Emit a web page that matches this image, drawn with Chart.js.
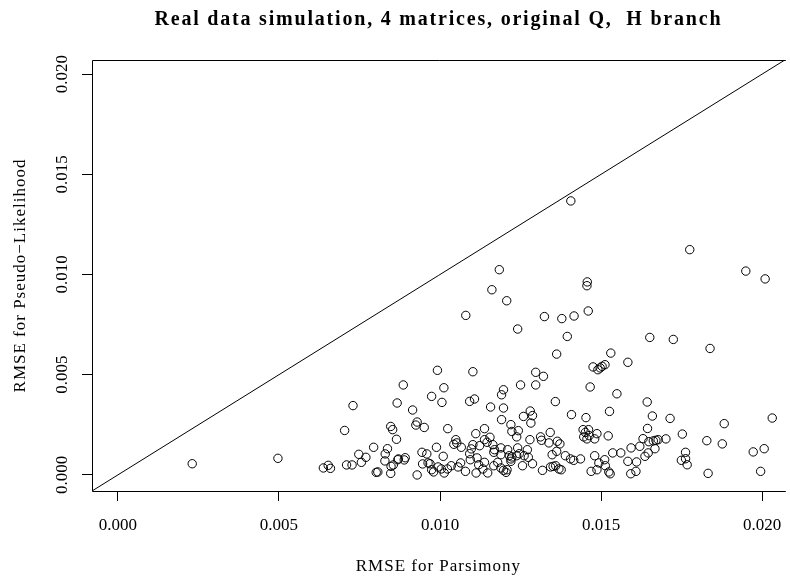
<!DOCTYPE html>
<html>
<head>
<meta charset="utf-8">
<title>RMSE: Parsimony vs Pseudo-Likelihood</title>
<script src="https://cdn.jsdelivr.net/npm/chart.js@4.4.0/dist/chart.umd.min.js"></script>
<style>
  html, body { margin: 0; padding: 0; background: #fff; overflow: hidden; }
  #wrap { width: 790px; height: 580px; }
</style>
</head>
<body>
<div id="wrap"><canvas id="rmseChart" width="790" height="580"></canvas></div>
<script>
// Text
const chartTitle = 'Real data simulation, 4 matrices, original Q,  H branch';
const xAxisTitle = 'RMSE for Parsimony';
const yAxisTitle = 'RMSE for Pseudo\u2212Likelihood';

// Axis ticks (same on both axes)
const tickValues = [0, 0.005, 0.010, 0.015, 0.020];
const tickLabels = ['0.000', '0.005', '0.010', '0.015', '0.020'];
const axisMin = -0.0008;
const axisMax = 0.0207;

// RMSE per simulated alignment, parsimony (x) vs pseudo-likelihood (y)
const rmseParsimony = [
  0.00231,0.00497,0.00638,0.00653,0.00660,0.00710,0.00727,0.00756,0.00748,0.00770,
  0.00794,0.00704,0.00730,0.00802,0.00807,0.00829,0.00830,0.00837,0.00848,0.00855,
  0.00847,0.00869,0.00871,0.00889,0.00892,0.00865,0.00847,0.00853,0.00867,0.00886,
  0.00915,0.00929,0.00925,0.00951,0.00974,0.00929,0.00944,0.00959,0.00946,0.00963,
  0.00969,0.00974,0.00980,0.00992,0.00989,
  0.01012,0.01006,0.01092,0.01107,0.01197,0.01191,0.01250,0.01297,0.01466,0.01358,
  0.01157,0.01197,0.01280,0.01259,0.01287,0.01282,0.01191,0.01408,0.01453,0.01024,
  0.01138,0.01111,0.01220,0.01223,0.01243,0.01238,0.01342,0.01312,0.01315,0.01279,
  0.01338,0.01364,0.01372,0.01444,0.01451,0.01461,0.01446,0.01456,0.01463,0.01480,
  0.01049,0.01043,0.01052,0.01066,0.01102,0.01097,0.01092,0.01123,0.01138,0.01146,
  0.01155,0.01164,0.01169,0.01167,0.01189,0.01210,0.01215,0.01220,0.01223,0.01241,
  0.01246,0.01238,0.01261,0.01271,0.01274,0.01010,0.00994,0.01004,0.01013,0.01023,
  0.01035,0.01056,0.01064,0.01079,0.01094,0.01115,0.01120,0.01112,0.01133,0.01148,
  0.01138,0.01167,0.01179,0.01189,0.01189,0.01197,0.01208,0.01205,0.01220,
  0.01256,0.01287,0.01318,0.01343,0.01351,0.01359,0.01369,0.01376,0.01348,0.01362,
  0.01389,0.01405,0.01415,0.01436,
  0.01406,0.01775,0.01949,0.02009,0.01184,0.01161,0.01207,0.01457,0.01456,0.01080,
  0.01324,0.01378,0.01416,0.01460,0.01241,0.01395,0.01651,0.01724,0.01838,0.01362,
  0.01530,0.01583,0.01475,0.01490,0.01497,0.01503,0.01512,0.01102,0.01297,0.01321,
  0.01549,0.01643,0.01526,0.01659,0.01714,0.01882,0.02031,0.01644,0.01522,0.01487,
  0.01752,0.01630,0.01648,0.01662,0.01670,0.01677,0.01701,0.01828,0.01876,0.01972,
  0.02006,0.01832,0.01995,0.01620,0.01593,0.01561,0.01536,0.01646,0.01667,0.01636,
  0.01583,0.01610,0.01592,0.01608,0.01749,0.01762,0.01767,0.01762,0.01524,0.01528,
  0.01513,0.01493,0.01480,0.01469,0.01487,0.01511
];
const rmsePseudoLik = [
  0.00056,0.00083,0.00035,0.00048,0.00033,0.00050,0.00050,0.00063,0.00103,0.00088,
  0.00138,0.00222,0.00346,0.00013,0.00015,0.00070,0.00105,0.00131,0.00043,0.00050,
  0.00008,0.00076,0.00080,0.00075,0.00086,0.00178,0.00242,0.00226,0.00359,0.00449,
  0.00324,0.00264,0.00249,0.00237,0.00392,0.00000,0.00113,0.00105,0.00055,0.00060,
  0.00056,0.00026,0.00015,0.00522,0.00138,
  0.00435,0.00362,0.00367,0.00379,0.00425,0.00400,0.00449,0.00449,0.00439,0.00366,
  0.00339,0.00334,0.00319,0.00292,0.00296,0.00259,0.00276,0.00301,0.00286,0.00231,
  0.00231,0.00206,0.00251,0.00217,0.00221,0.00190,0.00212,0.00190,0.00173,0.00176,
  0.00160,0.00168,0.00155,0.00226,0.00212,0.00226,0.00190,0.00180,0.00196,0.00180,
  0.00176,0.00153,0.00160,0.00138,0.00151,0.00130,0.00106,0.00146,0.00176,0.00163,
  0.00188,0.00151,0.00126,0.00113,0.00135,0.00126,0.00096,0.00080,0.00090,0.00135,
  0.00106,0.00096,0.00096,0.00126,0.00088,0.00093,0.00040,0.00030,0.00010,0.00030,
  0.00046,0.00040,0.00060,0.00018,0.00076,0.00085,0.00051,0.00010,0.00030,0.00010,
  0.00063,0.00046,0.00063,0.00101,0.00035,0.00023,0.00026,0.00013,0.00068,
  0.00046,0.00056,0.00023,0.00040,0.00043,0.00046,0.00030,0.00026,0.00101,0.00118,
  0.00096,0.00080,0.00073,0.00080,
  0.01367,0.01124,0.01017,0.00978,0.01024,0.00924,0.00869,0.00963,0.00944,0.00796,
  0.00790,0.00780,0.00793,0.00818,0.00728,0.00691,0.00686,0.00676,0.00631,0.00603,
  0.00608,0.00562,0.00539,0.00525,0.00534,0.00542,0.00550,0.00515,0.00512,0.00492,
  0.00405,0.00364,0.00317,0.00294,0.00282,0.00256,0.00284,0.00232,0.00195,0.00206,
  0.00204,0.00181,0.00166,0.00170,0.00173,0.00176,0.00180,0.00171,0.00155,0.00115,
  0.00131,0.00008,0.00018,0.00143,0.00135,0.00110,0.00110,0.00110,0.00131,0.00093,
  0.00068,0.00065,0.00006,0.00018,0.00073,0.00081,0.00051,0.00113,0.00015,0.00006,
  0.00046,0.00060,0.00096,0.00018,0.00026,0.00076
];

const points = rmseParsimony.map((x, i) => ({ x: x, y: rmsePseudoLik[i] }));

// ============================================
// Frame + all text, drawn in base-graphics style
// ============================================
const serif = '"Liberation Serif", "Times New Roman", serif';

const frameAndText = {
  id: 'frameAndText',
  afterDraw(chart) {
    const ctx = chart.ctx;
    const area = chart.chartArea;
    const xs = chart.scales.x;
    const ys = chart.scales.y;
    const midX = (area.left + area.right) / 2;
    const midY = (area.top + area.bottom) / 2;

    ctx.save();
    ctx.strokeStyle = '#000';
    ctx.lineWidth = 1;
    ctx.beginPath();
    ctx.moveTo(area.right + 1, Math.round(area.top) + 0.5);
    ctx.lineTo(Math.round(area.left) + 0.5, Math.round(area.top) + 0.5);
    ctx.lineTo(Math.round(area.left) + 0.5, Math.round(area.bottom) + 0.5);
    ctx.lineTo(area.right + 1, Math.round(area.bottom) + 0.5);
    ctx.stroke();

    ctx.fillStyle = '#000';
    ctx.textAlign = 'center';
    ctx.textBaseline = 'alphabetic';

    // main title
    ctx.font = 'bold 20px ' + serif;
    ctx.letterSpacing = '1.8px';
    ctx.fillText(chartTitle, midX, 25);

    // tick labels
    ctx.font = '17px ' + serif;
    ctx.letterSpacing = '0px';
    tickValues.forEach((v, i) => {
      ctx.fillText(tickLabels[i], xs.getPixelForValue(v), 530);
    });
    tickValues.forEach((v, i) => {
      ctx.save();
      ctx.translate(66.5, ys.getPixelForValue(v));
      ctx.rotate(-Math.PI / 2);
      ctx.fillText(tickLabels[i], 0, 0);
      ctx.restore();
    });

    // axis titles
    ctx.letterSpacing = '1px';
    ctx.fillText(xAxisTitle, midX, 571);
    ctx.save();
    ctx.translate(25, midY);
    ctx.rotate(-Math.PI / 2);
    ctx.fillText(yAxisTitle, 0, 0);
    ctx.restore();

    ctx.restore();
  }
};

function fixedTicks(scale) {
  scale.ticks = tickValues.map(v => ({ value: v }));
}

const tickGrid = {
  drawOnChartArea: false,
  drawTicks: true,
  tickLength: 10,
  color: '#000',
  lineWidth: 1
};

new Chart(document.getElementById('rmseChart'), {
  data: {
    datasets: [
      {
        type: 'line',
        label: 'y = x',
        data: [{ x: axisMin, y: axisMin }, { x: axisMax, y: axisMax }],
        borderColor: '#000',
        borderWidth: 1,
        pointRadius: 0,
        fill: false
      },
      {
        type: 'scatter',
        label: 'alignments',
        data: points,
        pointStyle: 'circle',
        pointRadius: 4.2,
        pointBorderWidth: 1,
        pointBorderColor: '#000',
        pointBackgroundColor: 'rgba(0,0,0,0)',
        clip: false
      }
    ]
  },
  options: {
    responsive: false,
    animation: false,
    events: [],
    layout: { padding: { top: 60, left: 0, right: 0, bottom: 0 } },
    plugins: {
      legend: { display: false },
      tooltip: { enabled: false },
      title: { display: false }
    },
    scales: {
      x: {
        type: 'linear',
        position: 'bottom',
        min: axisMin,
        max: axisMax,
        afterBuildTicks: fixedTicks,
        afterFit: scale => { scale.height = 89; },
        grid: tickGrid,
        border: { display: false },
        ticks: { display: false }
      },
      y: {
        type: 'linear',
        position: 'left',
        min: axisMin,
        max: axisMax,
        afterBuildTicks: fixedTicks,
        afterFit: scale => { scale.width = 92; },
        grid: tickGrid,
        border: { display: false },
        ticks: { display: false }
      }
    }
  },
  plugins: [frameAndText]
});
</script>
</body>
</html>
